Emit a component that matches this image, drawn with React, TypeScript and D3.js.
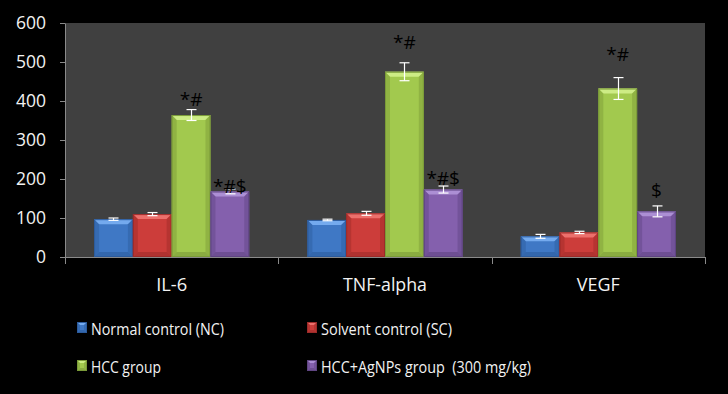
import React, { useRef, useEffect } from "react"
import * as d3 from "d3"

const categories = ["IL-6", "TNF-alpha", "VEGF"]
const seriesNames = [
  "Normal control (NC)",
  "Solvent control (SC)",
  "HCC group",
  "HCC+AgNPs group  (300 mg/kg)",
]
const ncValues = [97, 95, 53]
const scValues = [110, 112, 63]
const hccValues = [364, 475, 432]
const agnpValues = [168, 173, 117]
const ncErrors = [3, 2, 5]
const scErrors = [4, 5, 3]
const hccErrors = [14, 23, 28]
const agnpErrors = [6, 9, 14]
// significance marks and the value level where each one sits
const hccMarks = ["*#", "*#", "*#"]
const hccMarkLevels = [387, 533, 503]
const agnpMarks = ["*#$", "*#$", "$"]
const agnpMarkLevels = [164, 184, 154]
const yTicks = [0, 100, 200, 300, 400, 500, 600]

const colors = [
  { face: "#3f78c5", light: "#74aaee", dark: "#2c5b9c" },
  { face: "#cc3d3a", light: "#ec706c", dark: "#9c2b29" },
  { face: "#a2c94e", light: "#cdec85", dark: "#7a9a38" },
  { face: "#8460ad", light: "#ac8fd4", dark: "#5f4582" },
]

const FONT = "'Open Sans', sans-serif"
// the original uses a narrow font, so text is fitted to the widths it had
const categoryTextWidths = [31, 84, 43]
const legendTextWidths = [133, 131, 70, 210]

const App = () => {
  const svgRef = useRef(null)

  const drawBevel = (g, x, y, w, h, c, b) => {
    g.append("rect").attr("x", x).attr("y", y).attr("width", w).attr("height", h).attr("fill", c.face)
    g.append("polygon")
      .attr("points", `${x},${y} ${x + w},${y} ${x + w - b},${y + b} ${x + b},${y + b}`)
      .attr("fill", c.light)
    g.append("polygon")
      .attr("points", `${x},${y} ${x + b},${y + b} ${x + b},${y + h - b} ${x},${y + h}`)
      .attr("fill", c.dark).attr("opacity", 0.45)
    g.append("polygon")
      .attr("points", `${x + w},${y} ${x + w - b},${y + b} ${x + w - b},${y + h - b} ${x + w},${y + h}`)
      .attr("fill", c.dark).attr("opacity", 0.45)
    g.append("polygon")
      .attr("points", `${x},${y + h} ${x + b},${y + h - b} ${x + w - b},${y + h - b} ${x + w},${y + h}`)
      .attr("fill", c.dark).attr("opacity", 0.6)
    g.append("rect").attr("x", x + 0.5).attr("y", y + 0.5).attr("width", w - 1).attr("height", h - 1)
      .attr("fill", "none").attr("stroke", c.dark).attr("stroke-width", 1)
  }

  const generateChart = () => {
    document.body.style.margin = "0"
    const values = [ncValues, scValues, hccValues, agnpValues]
    const errors = [ncErrors, scErrors, hccErrors, agnpErrors]
    const marks = [null, null, hccMarks, agnpMarks]
    const markLevels = [null, null, hccMarkLevels, agnpMarkLevels]

    const left = 65
    const right = 705
    const top = 23
    const bottom = 257

    const svg = d3.select(svgRef.current)
    svg.selectAll("*").remove()
    svg.append("rect").attr("width", 728).attr("height", 394).attr("fill", "#000")
    svg.append("rect").attr("x", left).attr("y", top).attr("width", right - left).attr("height", bottom - top).attr("fill", "#404040")

    const x0 = d3.scaleBand().domain(categories).range([left, right]).paddingInner(0).paddingOuter(0)
    const x1 = d3.scaleBand().domain(seriesNames).range([0, x0.bandwidth()]).paddingInner(0).paddingOuter(0.75)
    const y = d3.scaleLinear().domain([0, 600]).range([bottom, top])

    // y axis
    const yAxis = svg.append("g")
      .attr("transform", `translate(${left},0)`)
      .call(d3.axisLeft(y).tickValues(yTicks).tickSize(5).tickSizeOuter(0).tickPadding(14))
    yAxis.selectAll("line").attr("stroke", "#8a8a8a")
    yAxis.select(".domain").attr("stroke", "#8a8a8a")
    yAxis.selectAll("text").attr("fill", "#f2f2f2").style("font-family", FONT).style("font-size", "17.5px")

    // bars
    const barsG = svg.append("g")
    seriesNames.forEach((s, si) => {
      categories.forEach((cat, ci) => {
        const v = values[si][ci]
        const bx = x0(cat) + x1(s)
        drawBevel(barsG, bx, y(v), x1.bandwidth(), bottom - y(v), colors[si], 5)
      })
    })

    // error bars
    const errG = svg.append("g").attr("stroke", "#fff").attr("stroke-width", 1.2)
    seriesNames.forEach((s, si) => {
      categories.forEach((cat, ci) => {
        const v = values[si][ci]
        const e = errors[si][ci]
        const cx = Math.round(x0(cat) + x1(s) + x1.bandwidth() / 2) + 0.5
        errG.append("line").attr("x1", cx).attr("x2", cx).attr("y1", y(v + e)).attr("y2", y(v - e))
        errG.append("line").attr("x1", cx - 5).attr("x2", cx + 5).attr("y1", y(v + e)).attr("y2", y(v + e))
        errG.append("line").attr("x1", cx - 5).attr("x2", cx + 5).attr("y1", y(v - e)).attr("y2", y(v - e))
      })
    })

    // significance marks
    seriesNames.forEach((s, si) => {
      if (!marks[si]) return
      categories.forEach((cat, ci) => {
        svg.append("text")
          .attr("x", x0(cat) + x1(s) + x1.bandwidth() / 2)
          .attr("y", y(markLevels[si][ci]))
          .attr("text-anchor", "middle")
          .attr("fill", "#000")
          .style("font-family", FONT)
          .style("font-size", "19px")
          .text(marks[si][ci])
      })
    })

    // x axis
    svg.append("line").attr("x1", left).attr("x2", right + 1).attr("y1", bottom + 0.5).attr("y2", bottom + 0.5)
      .attr("stroke", "#8a8a8a")
    const bounds = categories.map((c) => x0(c)).concat([right])
    svg.selectAll(".xtick").data(bounds).enter().append("line")
      .attr("x1", (d) => Math.round(d) + 0.5).attr("x2", (d) => Math.round(d) + 0.5)
      .attr("y1", bottom).attr("y2", bottom + 7)
      .attr("stroke", "#8a8a8a")
    svg.selectAll(".xlabel").data(categories).enter().append("text")
      .attr("x", (d) => x0(d) + x0.bandwidth() / 2)
      .attr("y", 290.5)
      .attr("text-anchor", "middle")
      .attr("fill", "#f2f2f2")
      .attr("textLength", (d, i) => categoryTextWidths[i])
      .attr("lengthAdjust", "spacingAndGlyphs")
      .style("font-family", FONT)
      .style("font-size", "19px")
      .text((d) => d)

    // legend
    const legend = svg.append("g")
    seriesNames.forEach((s, i) => {
      const lx = 77 + (i % 2) * 230
      const ly = 322 + Math.floor(i / 2) * 38
      drawBevel(legend, lx, ly, 10, 11, colors[i], 3)
      legend.append("text")
        .attr("x", lx + 14)
        .attr("y", ly + 12.5)
        .attr("fill", "#f2f2f2")
        .attr("textLength", legendTextWidths[i])
        .attr("lengthAdjust", "spacingAndGlyphs")
        .style("font-family", FONT)
        .style("font-size", "17px")
        .style("white-space", "pre")
        .text(s)
    })
  }

  useEffect(() => {
    generateChart()
  }, [])

  return (
    <div style={{ width: 728, height: 394, background: "#000" }}>
      <svg ref={svgRef} width={728} height={394} style={{ display: "block" }}></svg>
    </div>
  )
}

export default App
